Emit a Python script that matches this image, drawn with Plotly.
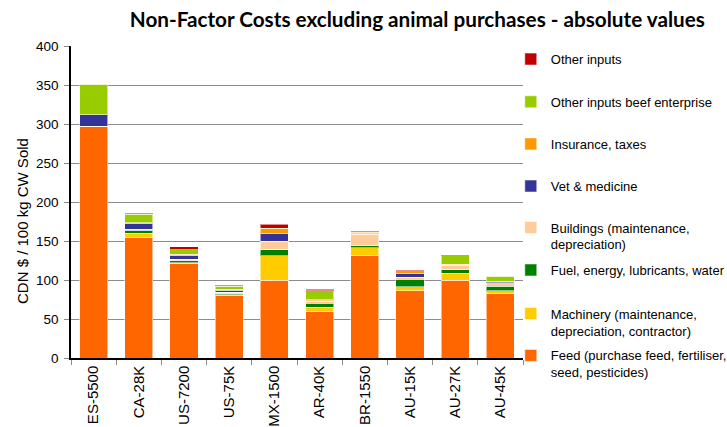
import plotly.graph_objects as go

# Farm types and non-factor cost components (CDN $ / 100 kg CW sold)
farms = ["ES-5500", "CA-28K", "US-7200", "US-75K", "MX-1500",
         "AR-40K", "BR-1550", "AU-15K", "AU-27K", "AU-45K"]

feed = [297, 154, 121, 80, 100, 60, 132, 86, 100, 83]
machinery = [0, 6, 1, 1, 31, 5, 9.5, 5.5, 8.5, 3.5]
fuel = [0, 3.5, 3, 1.5, 7.5, 5, 2.5, 9.5, 4.7, 5.5]
buildings = [0, 1.3, 1.5, 2, 11, 3, 14.5, 2.5, 6, 4.5]
vet = [15, 7.7, 5, 2.5, 10.5, 0.5, 1, 4.5, 0.5, 1.5]
insurance = [0, 1, 1.5, 1, 5.5, 1, 2, 4, 0.5, 0.5]
other_beef = [39, 11, 6, 4, 1, 12, 0.5, 0, 11, 6]
other_inputs = [0, 1, 3.5, 1, 5, 1.5, 0.5, 1, 1, 0.5]

y_ticks = [0, 50, 100, 150, 200, 250, 300, 350, 400]

# (name, values, colour, legend centre in paper coords)
series = [
    ("Feed (purchase feed, fertiliser,<br>seed, pesticides)", feed, "#FF6600", -0.019),
    ("Machinery (maintenance,<br>depreciation, contractor)", machinery, "#FFCC00", 0.115),
    ("Fuel, energy, lubricants, water", fuel, "#008000", 0.282),
    ("Buildings (maintenance,<br>depreciation)", buildings, "#FFCC99", 0.391),
    ("Vet & medicine", vet, "#333399", 0.551),
    ("Insurance, taxes", insurance, "#FF9900", 0.686),
    ("Other inputs beef enterprise", other_beef, "#99CC00", 0.821),
    ("Other inputs", other_inputs, "#C00000", 0.958),
]

fig = go.Figure()
layout_legends = {}
for i, (name, vals, color, ly) in enumerate(series):
    key = "legend" if i == 0 else f"legend{i + 1}"
    fig.add_trace(go.Bar(
        x=farms, y=vals, name=name,
        marker=dict(color=color, line=dict(color="rgba(255,255,255,0.55)", width=1)),
        legend=key,
    ))
    layout_legends[key] = dict(
        x=0.973, xanchor="left", y=ly, yanchor="middle",
        valign="top", bgcolor="rgba(0,0,0,0)", borderwidth=0,
        font=dict(family="Liberation Sans, Arial", size=13, color="#000000"),
        itemclick=False,
    )

fig.update_layout(
    width=727, height=427,
    margin=dict(l=71, r=204, t=46, b=69, autoexpand=False),
    barmode="stack",
    bargap=0.38,
    plot_bgcolor="white",
    paper_bgcolor="white",
    font=dict(family="Liberation Sans, Arial", size=13, color="#000000"),
    title=dict(
        text="<b>Non-Factor Costs excluding animal purchases - absolute values</b>",
        x=0.574, xanchor="center", y=0.953, yanchor="middle",
        font=dict(family="Lato", size=20.7, color="#000000"),
    ),
    showlegend=True,
    **layout_legends,
)

fig.update_yaxes(
    range=[0, 400], tickvals=y_ticks, ticktext=[str(v) for v in y_ticks],
    showgrid=True, gridcolor="#8C8C8C", gridwidth=1,
    showline=True, linecolor="#000000", linewidth=1.5,
    ticks="outside", ticklen=5, tickcolor="#8C8C8C",
    zeroline=False, ticklabelstandoff=3, automargin=False,
    tickfont=dict(size=13.5),
)
fig.update_xaxes(
    showline=True, linecolor="#000000", linewidth=1.5,
    ticks="outside", ticklen=5, tickcolor="#8C8C8C", tickson="boundaries",
    tickangle=-90, tickfont=dict(size=15), automargin=False,
)

fig.add_annotation(
    text="CDN $ / 100 kg CW Sold", textangle=-90,
    xref="paper", yref="paper", x=(22 - 71) / 452, y=(358 - 221) / 312,
    xanchor="center", yanchor="middle", showarrow=False,
    font=dict(family="Liberation Sans, Arial", size=15, color="#000000"),
)

fig.write_html("out.html")
